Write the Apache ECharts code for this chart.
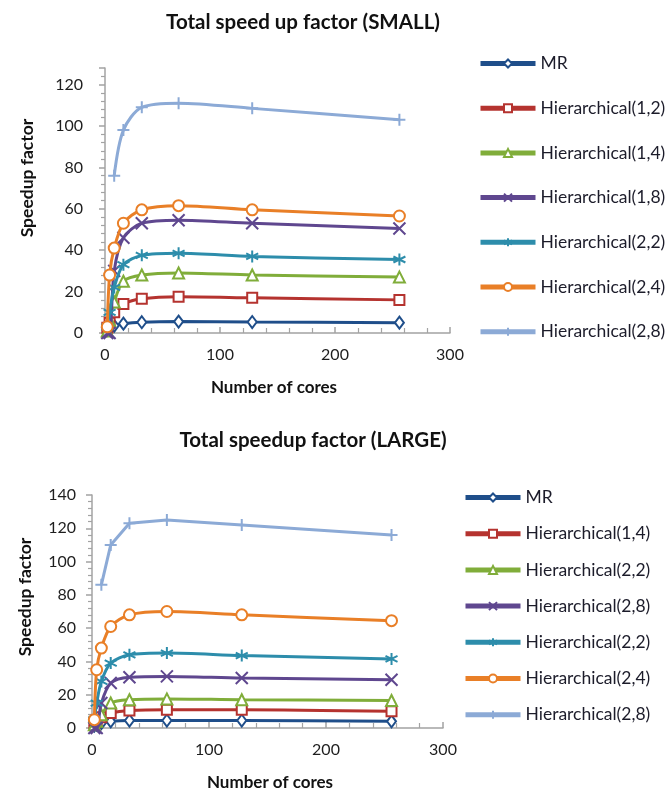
<!DOCTYPE html>
<html><head><meta charset="utf-8">
<script src="https://cdn.jsdelivr.net/npm/echarts@6/dist/echarts.min.js"></script>
<style>html,body{margin:0;padding:0;background:#fff}#c{width:672px;height:792px}</style>
</head><body><div id="c"></div>
<script>
// ---------- data ----------
const coresSmall = [2, 4, 8, 16, 32, 64, 128, 256];
const coresSmallH28 = [8, 16, 32, 64, 128, 256];
const namesSmall = ['MR', 'Hierarchical(1,2)', 'Hierarchical(1,4)', 'Hierarchical(1,8)', 'Hierarchical(2,2)', 'Hierarchical(2,4)', 'Hierarchical(2,8)'];
const smallMR  = [1.5, 2.5, 3.5, 4.5, 5.2, 5.5, 5.3, 5];
const smallH12 = [2.5, 5, 10, 14, 16.5, 17.5, 17, 16];
const smallH14 = [1, 6, 15, 25, 28, 29, 28, 27];
const smallH18 = [0, 0, 30, 46, 53, 54.5, 53, 50.5];
const smallH22 = [3, 10, 22, 33, 37.5, 38.5, 37, 35.5];
const smallH24 = [3, 28, 41, 53, 59.5, 61.5, 59.5, 56.5];
const smallH28 = [76, 98, 109, 111, 108.5, 103];

const coresLarge = [2, 4, 8, 16, 32, 64, 128, 256];
const coresLargeH28 = [8, 16, 32, 64, 128, 256];
const namesLarge = ['MR', 'Hierarchical(1,4)', 'Hierarchical(2,2)', 'Hierarchical(2,8)', 'Hierarchical(2,2)', 'Hierarchical(2,4)', 'Hierarchical(2,8)'];
const largeMR   = [1.5, 2, 3, 4, 4.5, 4.5, 4.5, 4];
const largeH14  = [3, 4.5, 6.5, 9, 10.5, 11, 11, 10];
const largeH22a = [2, 4, 8, 15, 17, 17.5, 17, 16.5];
const largeH28a = [0, 0, 15, 27, 30.5, 31, 30, 29];
const largeH22b = [5, 15, 28, 39, 44, 45, 43.5, 41.5];
const largeH24  = [5, 35, 48, 61, 68, 70, 68, 64.5];
const largeH28b = [86, 110, 123, 125, 122, 116];

const xTicks = [0, 100, 200, 300];
const yTicksSmall = [0, 20, 40, 60, 80, 100, 120];
const yTicksLarge = [0, 20, 40, 60, 80, 100, 120, 140];

// ---------- styles ----------
const COLORS = ['#1f4e8a', '#b5332f', '#80ad3a', '#5f478f', '#2d8dab', '#e97f27', '#8caad6'];
const SYMBOLS = ['emptyDiamond', 'emptyRect', 'emptyTriangle',
  'path://M0,0L10,10M10,0L0,10',
  'path://M5,0L5,10M0,2.5L10,7.5M0,7.5L10,2.5',
  'emptyCircle',
  'path://M5,0L5,10M0,5L10,5'];
const SIZES = [[9, 12], 10, 11, 12, 12, 11, 12];
const FONT = 'Lato, "Open Sans", sans-serif';

function zip(xs, ys) { return xs.map((x, i) => [x, ys[i]]); }

function mkSeries(name, idx, xs, ys, axis, smooth) {
  return {
    type: 'line', name: name + '#' + axis, xAxisIndex: axis, yAxisIndex: axis,
    data: zip(xs, ys), smooth: smooth,
    symbol: SYMBOLS[idx], symbolSize: SIZES[idx], showAllSymbol: true,
    lineStyle: { color: COLORS[idx], width: 3 },
    itemStyle: { color: COLORS[idx], borderColor: COLORS[idx], borderWidth: 2 },
    z: 2 + idx
  };
}

const smallData = [
  [coresSmall, smallMR], [coresSmall, smallH12], [coresSmall, smallH14], [coresSmall, smallH18],
  [coresSmall, smallH22], [coresSmall, smallH24], [coresSmallH28, smallH28]];
const largeData = [
  [coresLarge, largeMR], [coresLarge, largeH14], [coresLarge, largeH22a], [coresLarge, largeH28a],
  [coresLarge, largeH22b], [coresLarge, largeH24], [coresLargeH28, largeH28b]];

const series = [];
smallData.forEach((d, i) => series.push(mkSeries(namesSmall[i] + i, i, d[0], d[1], 0, 0.3)));
largeData.forEach((d, i) => series.push(mkSeries(namesLarge[i] + i, i, d[0], d[1], 1, i === 6 ? false : 0.3)));

function xAxis(grid) {
  return {
    type: 'value', gridIndex: grid, min: xTicks[0], max: xTicks[xTicks.length - 1], interval: 100,
    axisLine: { lineStyle: { color: '#a3a3a3', width: 1.5 } },
    axisTick: { inside: true, length: 6, lineStyle: { color: '#a3a3a3', width: 1.5 } },
    minorTick: { show: true, splitNumber: 5, length: 5, lineStyle: { color: '#a3a3a3', width: 1.2 } },
    splitLine: { show: false },
    axisLabel: { fontSize: 16, fontFamily: FONT, color: '#1e1e1e', margin: 14 }
  };
}
function yAxis(grid, ticks, max, margin) {
  return {
    type: 'value', gridIndex: grid, min: ticks[0], max: max, interval: 20,
    axisLine: { show: true, lineStyle: { color: '#a3a3a3', width: 1.5 } },
    axisTick: { show: true, length: 6, lineStyle: { color: '#a3a3a3', width: 1.5 } },
    minorTick: { show: true, splitNumber: 5, length: 4, lineStyle: { color: '#a3a3a3', width: 1.2 } },
    splitLine: { show: false },
    axisLabel: { fontSize: 16, fontFamily: FONT, color: '#1e1e1e', margin: margin, showMaxLabel: max === ticks[ticks.length - 1] }
  };
}

function legend(names, axis, left, top, gap) {
  return {
    data: names.map((n, i) => n + i + '#' + axis),
    orient: 'vertical', left: left, top: top, padding: 0, itemWidth: 55, itemHeight: 10, itemGap: gap,
    selectedMode: false,
    formatter: n => n.split('#')[0].replace(/\d$/, ''),
    lineStyle: { width: 5 },
    textStyle: { fontSize: 17.5, fontFamily: FONT, color: '#1c1c2a', lineHeight: 17 }
  };
}

function txt(x, y, s, size, rot) {
  return { type: 'text', x: x, y: y, rotation: rot || 0,
    style: { text: s, fontSize: size, fontWeight: 'bold', fontFamily: FONT, fill: '#111', textAlign: 'center', textVerticalAlign: 'middle' } };
}

const option = {
  animation: false,
  backgroundColor: '#fff',
  grid: [
    { left: 105, right: 222, top: 68, bottom: 459 },
    { left: 92, right: 229, top: 495, bottom: 64 }
  ],
  xAxis: [xAxis(0), xAxis(1)],
  yAxis: [yAxis(0, yTicksSmall, 128, 22), yAxis(1, yTicksLarge, 140, 16)],
  legend: [legend(namesSmall, 0, 478, 54.5, 26.7), legend(namesLarge, 1, 463, 488.5, 18.2)],
  graphic: [
    txt(303, 22, 'Total speed up factor (SMALL)', 20.5),
    txt(313, 440, 'Total speedup factor (LARGE)', 20.5),
    txt(27, 178, 'Speedup factor', 17.5, Math.PI / 2),
    txt(25, 597, 'Speedup factor', 17.5, Math.PI / 2),
    txt(274, 388, 'Number of cores', 17),
    txt(270, 783, 'Number of cores', 17)
  ],
  series: series
};
const chart = echarts.init(document.getElementById('c'), null, { renderer: 'canvas' });
chart.setOption(option);
</script>
</body></html>
